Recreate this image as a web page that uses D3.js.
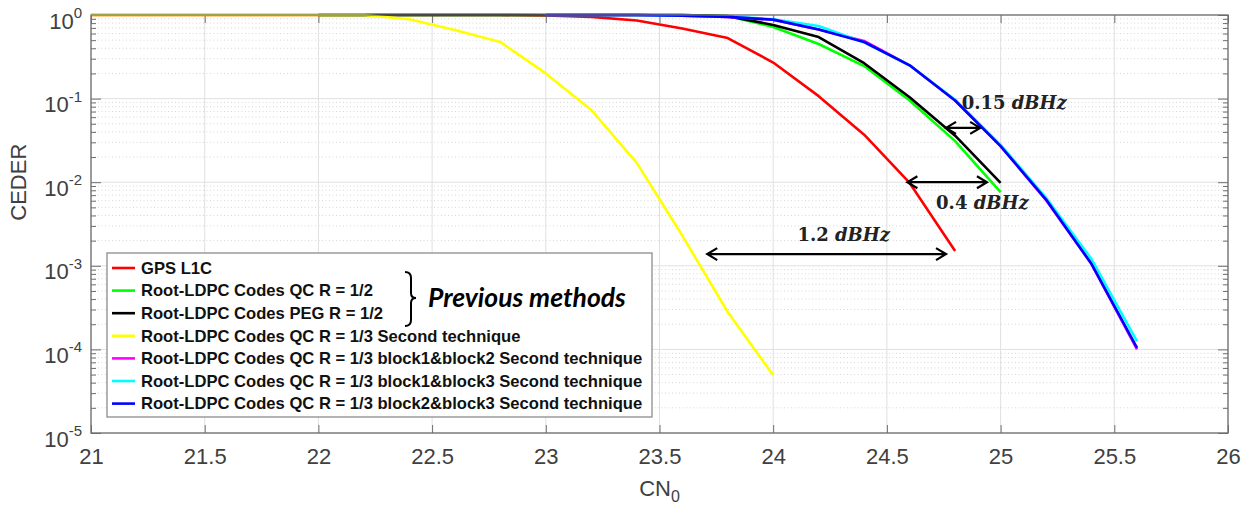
<!DOCTYPE html>
<html>
<head>
<meta charset="utf-8">
<script src="https://cdn.jsdelivr.net/npm/d3@7"></script>
<style>
  body { margin: 0; background: #fff; }
  svg { display: block; }
</style>
</head>
<body>
<div id="chart"></div>
<script>
// series data (CN0 in dB-Hz, CEDER)
const xGps   = [21, 21.2, 21.4, 21.6, 21.8, 22, 22.2, 22.4, 22.6, 22.8, 23, 23.2, 23.4, 23.6, 23.8, 24, 24.2, 24.4, 24.6, 24.8];
const yGps   = [1, 1, 1, 1, 1, 1, 1, 1, 1, 1, 0.99, 0.95, 0.86, 0.69, 0.53, 0.27, 0.107, 0.037, 0.0098, 0.0015];
const xHalf  = [22, 22.2, 22.4, 22.6, 22.8, 23, 23.2, 23.4, 23.6, 23.8, 24, 24.2, 24.4, 24.6, 24.8, 25];
const yQcHalf  = [1, 1, 1, 1, 1, 1, 1, 1, 1, 0.97, 0.72, 0.45, 0.245, 0.095, 0.031, 0.0076];
const yPegHalf = [1, 1, 1, 1, 1, 1, 1, 1, 1, 0.97, 0.76, 0.545, 0.265, 0.104, 0.036, 0.0098];
const xThird = [21, 21.2, 21.4, 21.6, 21.8, 22, 22.2, 22.4, 22.6, 22.8, 23, 23.2, 23.4, 23.6, 23.8, 24];
const yThird = [1, 1, 1, 1, 1, 1, 1, 0.89, 0.66, 0.475, 0.2, 0.073, 0.017, 0.0023, 0.00028, 0.000049];
const xBlock = [23, 23.2, 23.4, 23.6, 23.8, 24, 24.2, 24.4, 24.6, 24.8, 25, 25.2, 25.4, 25.6];
const yB12   = [1, 1, 1, 0.98, 0.95, 0.88, 0.67, 0.49, 0.25, 0.095, 0.027, 0.0061, 0.00105, 0.0001];
const yB13   = [1, 1, 1, 0.98, 0.96, 0.89, 0.74, 0.47, 0.25, 0.097, 0.028, 0.0065, 0.0012, 0.000125];
const yB23   = [1, 1, 1, 0.98, 0.95, 0.88, 0.67, 0.475, 0.25, 0.095, 0.027, 0.0062, 0.00105, 0.000104];

const seriesNames = [
  "GPS L1C",
  "Root-LDPC Codes QC R = 1/2",
  "Root-LDPC Codes PEG R = 1/2",
  "Root-LDPC Codes QC R = 1/3 Second technique",
  "Root-LDPC Codes QC R = 1/3 block1&block2 Second technique",
  "Root-LDPC Codes QC R = 1/3 block1&block3 Second technique",
  "Root-LDPC Codes QC R = 1/3 block2&block3 Second technique"
];
const seriesColors = ["#ff0000", "#00ff00", "#000000", "#ffff00", "#ff00ff", "#00ffff", "#0000ff"];
const seriesX = [xGps, xHalf, xHalf, xThird, xBlock, xBlock, xBlock];
const seriesY = [yGps, yQcHalf, yPegHalf, yThird, yB12, yB13, yB23];

const xTicks = [21, 21.5, 22, 22.5, 23, 23.5, 24, 24.5, 25, 25.5, 26];
const yDecades = [0, -1, -2, -3, -4, -5];

// gap annotations: arrow from x1 to x2 at y, label centred at (tx, ty)
const gaps = [
  {x1: 23.71, x2: 24.76, y: 0.00138, num: "1.2", tx: 24.31, ty: 0.00234},
  {x1: 24.59, x2: 24.94, y: 0.0100, num: "0.4", tx: 24.92, ty: 0.00564},
  {x1: 24.76, x2: 24.91, y: 0.0446, num: "0.15", tx: 25.06, ty: 0.0886}
];

const W = 1252, H = 508;
const margin = {top: 15, right: 24, bottom: 75, left: 91},
  width = W - margin.left - margin.right,
  height = H - margin.top - margin.bottom;

const svg = d3.select("#chart").append("svg")
  .attr("width", W).attr("height", H)
  .style("font-family", "'Liberation Sans', Arial, Helvetica, sans-serif");

const g = svg.append("g").attr("transform", `translate(${margin.left},${margin.top})`);

const x = d3.scaleLinear().domain([21, 26]).range([0, width]);
const y = d3.scaleLog().domain([1e-5, 1]).range([height, 0]);

const majors = yDecades.map(e => Math.pow(10, e));
const minors = [];
yDecades.slice(1).forEach(e => {
  for (let k = 2; k <= 9; k++) minors.push(k * Math.pow(10, e));
});

// grid
g.append("g").selectAll("line.minor").data(minors).join("line")
  .attr("x1", 0).attr("x2", width)
  .attr("y1", d => y(d)).attr("y2", d => y(d))
  .attr("stroke", "#d6d6d6").attr("stroke-width", 1)
  .attr("stroke-dasharray", "1,2.5");
g.append("g").selectAll("line.ymaj").data(majors).join("line")
  .attr("x1", 0).attr("x2", width)
  .attr("y1", d => y(d)).attr("y2", d => y(d))
  .attr("stroke", "#e0e0e0").attr("stroke-width", 1);
g.append("g").selectAll("line.xmaj").data(xTicks).join("line")
  .attr("x1", d => x(d)).attr("x2", d => x(d))
  .attr("y1", 0).attr("y2", height)
  .attr("stroke", "#e0e0e0").attr("stroke-width", 1);

// axes (ticks point inward, like matlab)
const axisColor = "#6e6e6e";
function styleAxis(sel) {
  sel.select(".domain").remove();
  sel.selectAll("line").attr("stroke", axisColor);
}
g.append("g").attr("transform", `translate(0,${height})`)
  .call(d3.axisBottom(x).tickValues(xTicks).tickSize(-8).tickPadding(14).tickFormat(d3.format("")))
  .call(styleAxis)
  .call(a => a.selectAll("text").attr("fill", "#404040").style("font-size", "22px").attr("dy", "0.75em"));
g.append("g")
  .call(d3.axisTop(x).tickValues(xTicks).tickSize(-8).tickFormat(""))
  .call(styleAxis);
g.append("g")
  .call(d3.axisLeft(y).tickValues(majors).tickSize(-10).tickFormat(""))
  .call(styleAxis);
g.append("g")
  .call(d3.axisLeft(y).tickValues(minors).tickSize(-5).tickFormat(""))
  .call(styleAxis);
g.append("g").attr("transform", `translate(${width},0)`)
  .call(d3.axisRight(y).tickValues(majors).tickSize(-10).tickFormat(""))
  .call(styleAxis);
g.append("g").attr("transform", `translate(${width},0)`)
  .call(d3.axisRight(y).tickValues(minors).tickSize(-5).tickFormat(""))
  .call(styleAxis);

// y tick labels 10^n
const yl = g.append("g").selectAll("text").data(yDecades).join("text")
  .attr("x", -9).attr("y", d => y(Math.pow(10, d)) + 13.5)
  .attr("text-anchor", "end").attr("fill", "#404040").style("font-size", "22px");
yl.append("tspan").text("10");
yl.append("tspan").attr("dy", -10.5).style("font-size", "15px").text(d => d);

// curves
const line = d3.line().x(d => x(d[0])).y(d => y(d[1]));
seriesNames.forEach((name, i) => {
  g.append("path")
    .datum(seriesX[i].map((v, j) => [v, seriesY[i][j]]))
    .attr("fill", "none")
    .attr("stroke", seriesColors[i])
    .attr("stroke-width", 2.6)
    .attr("stroke-linejoin", "round")
    .attr("d", line);
});

// box
g.append("rect").attr("width", width).attr("height", height)
  .attr("fill", "none").attr("stroke", axisColor).attr("stroke-width", 1.3);

// gap annotations
gaps.forEach(a => {
  const ax1 = x(a.x1), ax2 = x(a.x2), ay = y(a.y);
  g.append("path")
    .attr("d", `M${ax1},${ay}L${ax2},${ay}M${ax1 + 10},${ay - 6}L${ax1},${ay}L${ax1 + 10},${ay + 6}M${ax2 - 10},${ay - 6}L${ax2},${ay}L${ax2 - 10},${ay + 6}`)
    .attr("fill", "none").attr("stroke", "#000").attr("stroke-width", 2.2);
  const t = g.append("text")
    .attr("x", x(a.tx)).attr("y", y(a.ty) + 6.5)
    .attr("text-anchor", "middle")
    .style("font-family", "'DejaVu Serif', 'Liberation Serif', serif")
    .style("font-weight", "bold").style("font-size", "18px")
    .attr("fill", "#222");
  t.append("tspan").text(a.num + " ");
  t.append("tspan").style("font-style", "italic").text("dBHz");
});

// axis labels
svg.append("text")
  .attr("transform", `translate(26,${margin.top + y(0.01)})rotate(-90)`)
  .attr("text-anchor", "middle").attr("fill", "#404040").style("font-size", "22px")
  .text("CEDER");
const xl = svg.append("text")
  .attr("x", margin.left + x(23.5)).attr("y", 496)
  .attr("text-anchor", "middle").attr("fill", "#404040").style("font-size", "22px");
xl.append("tspan").text("CN");
xl.append("tspan").attr("dy", 6).style("font-size", "16px").text("0");

// legend
const lg = svg.append("g").attr("transform", "translate(107,253)");
lg.append("rect").attr("width", 545).attr("height", 164)
  .attr("fill", "#fff").attr("stroke", "#8c8c8c").attr("stroke-width", 1.3);
const rows = lg.selectAll("g.row").data(seriesNames).join("g")
  .attr("transform", (d, i) => `translate(0,${15 + i * 22.6})`);
rows.append("line").attr("x1", 5).attr("x2", 28)
  .attr("stroke", (d, i) => seriesColors[i]).attr("stroke-width", 2.6);
rows.append("text").attr("x", 34).attr("y", 5.8)
  .style("font-size", "16.6px").style("font-weight", "bold").attr("fill", "#111")
  .text(d => d);

// brace + note for the previous methods
lg.append("path")
  .attr("d", "M298,19 Q304,19 304,25 L304,40 Q304,45 309,45 Q304,45 304,50 L304,67 Q304,73 298,73")
  .attr("fill", "none").attr("stroke", "#000").attr("stroke-width", 2);
lg.append("text").attr("x", 321).attr("y", 54)
  .style("font-family", "Lato, 'Open Sans', sans-serif")
  .style("font-size", "26.5px").style("font-weight", "bold").style("font-style", "italic")
  .attr("fill", "#000").text("Previous methods");
</script>
</body>
</html>
